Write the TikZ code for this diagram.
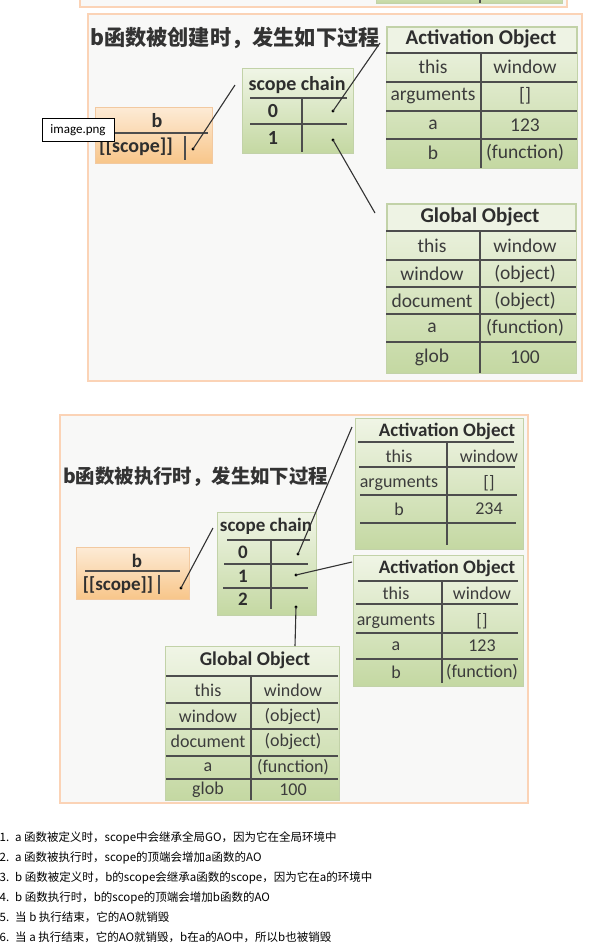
\documentclass[tikz,border=0pt]{standalone}
\usepackage{fontspec}
\setmainfont{Carlito}
\newfontfamily\cjk{Noto Sans CJK SC}
\definecolor{framec}{HTML}{FBD3B6}
\definecolor{bgc}{HTML}{F8F8F7}
\definecolor{gtop}{HTML}{F0F5E6}
\definecolor{gbot}{HTML}{C4D8A2}
\definecolor{gborder}{HTML}{C2D2A8}
\definecolor{hdfill}{HTML}{EEF3E4}
\definecolor{otop}{HTML}{FDEBD6}
\definecolor{obot}{HTML}{F8C68A}
\definecolor{oborder}{HTML}{F2C9A0}
\definecolor{sepc}{HTML}{4D4D4D}
\definecolor{connc}{HTML}{333333}
\definecolor{hdc}{HTML}{2E2E2E}
\definecolor{cellc}{HTML}{3C3C3C}
\definecolor{titlec}{HTML}{333333}
\tikzset{
 frame/.style={draw=framec, line width=1.3pt, fill=bgc},
 gbox/.style={draw=gborder, line width=0.9pt, top color=gtop, bottom color=gbot},
 obox/.style={draw=oborder, line width=0.9pt, top color=otop, bottom color=obot},
 sepline/.style={draw=sepc, line width=1.4pt},
 conn/.style={draw=connc, line width=1.1pt},
 dotn/.style={circle, fill=black, inner sep=0pt, minimum size=3.2pt},
 hdA/.style={font=\bfseries\fontsize{21}{24}\selectfont, text=hdc, inner sep=0pt},
 cellA/.style={font=\fontsize{19.5}{22}\selectfont, text=cellc, inner sep=0pt},
 hdB/.style={font=\bfseries\fontsize{19}{22}\selectfont, text=hdc, inner sep=0pt},
 cellB/.style={font=\fontsize{18}{21}\selectfont, text=cellc, inner sep=0pt},
 ttl/.style={font=\cjk\bfseries\fontsize{21.2}{25}\selectfont, text=titlec, inner sep=0pt, anchor=west},
 note/.style={font=\cjk\fontsize{11.5}{14}\selectfont, text=black, inner sep=0pt, anchor=base west},
}
\begin{document}
\begin{tikzpicture}[x=1pt,y=-1pt]
\useasboundingbox (0,0) rectangle (592,951);
\fill[white] (0,0) rectangle (592,951);
% tail of previous frame
\draw[frame] (80,-20) rectangle (567,7);
\draw[gbox] (376,-20) rectangle (562,3);
\draw[sepline] (480,-5) -- (480,3);

% ===== frame 1 =====
\draw[frame] (88,14) rectangle (582,381);
\node[ttl] (t1) at (90,38) {b函数被创建时，发生如下过程};

% AO1
\draw[gbox] (386,26) rectangle (577,168);
\draw[draw=gborder, fill=hdfill] (387,27) rectangle (576,53);
\foreach \y in {53,82,111,139} \draw[sepline] (386,\y) -- (577,\y);
\draw[sepline] (481,53) -- (481,168);
\node[hdA] (ao1h) at (481,39) {Activation Object};
\foreach \n/\l/\r/\y in {1/this/window/67, 2/arguments/{[]}/96, 3/a/123/125, 4/b/(function)/153}{
  \node[cellA] (ao1l\n) at (433,\y) {\l};
  \node[cellA] (ao1r\n) at (525,\y) {\r};
}

% Global1
\draw[gbox] (386,203) rectangle (576,373);
\draw[draw=gborder, fill=hdfill] (387,204) rectangle (575,231);
\foreach \y in {231,260,287,314,342} \draw[sepline] (386,\y) -- (576,\y);
\draw[sepline] (480,231) -- (480,373);
\node[hdA] (g1h) at (480,217) {Global Object};
\foreach \n/\l/\r/\y in {1/this/window/246, 2/window/(object)/274, 3/document/(object)/301, 4/a/(function)/328, 5/glob/100/357}{
  \node[cellA] (g1l\n) at (432,\y) {\l};
  \node[cellA] (g1r\n) at (525,\y) {\r};
}

% scope chain 1
\draw[gbox] (242,68) rectangle (353,153);
\node[hdA, font=\bfseries\fontsize{20}{23}\selectfont] (sc1h) at (297,85) {scope chain};
\draw[sepline] (250,98) -- (347,98);
\draw[sepline] (250,124) -- (347,124);
\draw[sepline] (302,98) -- (302,152);
\node[hdA, font=\bfseries\fontsize{20}{23}\selectfont] (sc1n0) at (273,111) {0};
\node[hdA, font=\bfseries\fontsize{20}{23}\selectfont] (sc1n1) at (273,138) {1};
\node[dotn] (d10) at (333,111) {};
\node[dotn] (d11) at (333,140) {};

% b box 1
\draw[obox] (95,107) rectangle (212,163);
\node[hdA, font=\bfseries\fontsize{20}{23}\selectfont] (b1h) at (157,121) {b};
\draw[sepline] (99,133) -- (208,133);
\node[hdA, font=\bfseries\fontsize{20}{23}\selectfont] (b1s) at (136,147) {[[scope]]};
\draw[sepline] (185,136) -- (185,160);
\node[dotn] (db1) at (193,149) {};

% tooltip
\node[draw=black, fill=white, line width=0.8pt, minimum width=72pt, minimum height=23pt, inner sep=0pt, font=\fontsize{13}{15}\selectfont] (tip) at (78,130) {image.png};

% connectors 1
\coordinate (c1) at (235,85);
\coordinate (c2) at (380,43);
\coordinate (c3) at (375,213);
\draw[conn] (db1.center) -- (c1);
\draw[conn] (d10.center) -- (c2);
\draw[conn] (d11.center) -- (c3);

% ===== frame 2 =====
\draw[frame] (60,415) rectangle (528,803);
\node[ttl, font=\cjk\bfseries\fontsize{19.4}{23}\selectfont] (t2) at (63,477) {b函数被执行时，发生如下过程};

% AO2a
\draw[gbox] (355,418) rectangle (523,549);
\node[hdB] (ao2h) at (447,431) {Activation Object};
\draw[sepline] (358,442) -- (514,442);
\draw[sepline] (359,467) -- (515,467);
\draw[sepline] (360,495) -- (517,495);
\draw[sepline] (360,523) -- (516,523);
\draw[sepline] (447,442) -- (447,545);
\foreach \n/\l/\r/\y in {1/this/window/456, 2/arguments/{[]}/483, 3/b/234/509}{
  \node[cellB] (ao2l\n) at (399,\y) {\l};
  \node[cellB] (ao2r\n) at (489,\y) {\r};
}

% AO2b
\draw[gbox] (353,555) rectangle (523,686);
\node[hdB] (ao3h) at (447,568) {Activation Object};
\draw[sepline] (358,581) -- (518,581);
\draw[sepline] (356,604) -- (518,604);
\draw[sepline] (356,633) -- (518,633);
\draw[sepline] (356,659) -- (518,659);
\draw[sepline] (442,581) -- (442,683);
\foreach \n/\l/\r/\y in {1/this/window/593, 2/arguments/{[]}/621, 3/a/123/646, 4/b/(function)/672}{
  \node[cellB] (ao3l\n) at (396,\y) {\l};
  \node[cellB] (ao3r\n) at (482,\y) {\r};
}

% scope chain 2
\draw[gbox] (217,512) rectangle (316,615);
\node[hdB] (sc2h) at (266,526) {scope chain};
\draw[sepline] (227,540) -- (310,540);
\draw[sepline] (224,564) -- (308,564);
\draw[sepline] (223,588) -- (308,588);
\draw[sepline] (271,540) -- (271,609);
\node[hdB] (sc2n0) at (243,552) {0};
\node[hdB] (sc2n1) at (243,576) {1};
\node[hdB] (sc2n2) at (243,599) {2};
\node[dotn] (e0) at (298,554) {};
\node[dotn] (e1) at (296,575) {};
\node[dotn] (e2) at (296,607) {};

% b box 2
\draw[obox] (76,547) rectangle (189,599);
\node[hdB] (b2h) at (137,561) {b};
\draw[sepline] (85,571) -- (180,571);
\node[hdB] (b2s) at (118,585) {[[scope]]};
\draw[sepline] (159,575) -- (159,594);
\node[dotn] (eb) at (181,588) {};

% Global2
\draw[gbox] (165,646) rectangle (339,800);
\node[hdB, font=\bfseries\fontsize{19.5}{22}\selectfont] (g2h) at (255,660) {Global Object};
\foreach \y in {676,703,729,756,779} \draw[sepline] (166,\y) -- (338,\y);
\draw[sepline] (251,676) -- (251,800);
\foreach \n/\l/\r/\y in {1/this/window/690, 2/window/(object)/716, 3/document/(object)/741, 4/a/(function)/767, 5/glob/100/790}{
  \node[cellB] (g2l\n) at (208,\y) {\l};
  \node[cellB] (g2r\n) at (293,\y) {\r};
}

% connectors 2
\coordinate (f1) at (213,528);
\coordinate (f2) at (352,427);
\coordinate (f3) at (352,562);
\coordinate (f4) at (295,646);
\draw[conn] (eb.center) -- (f1);
\draw[conn] (e0.center) -- (f2);
\draw[conn] (e1.center) -- (f3);
\draw[conn] (e2.center) -- (f4);

% ===== notes =====
\node[note] (n1) at (9,841) {\makebox[0pt][r]{1.}\hspace{6pt}a 函数被定义时，scope中会继承全局GO，因为它在全局环境中};
\node[note] (n2) at (9,861) {\makebox[0pt][r]{2.}\hspace{6pt}a 函数被执行时，scope的顶端会增加a函数的AO};
\node[note] (n3) at (9,881) {\makebox[0pt][r]{3.}\hspace{6pt}b 函数被定义时，b的scope会继承a函数的scope，因为它在a的环境中};
\node[note] (n4) at (9,901) {\makebox[0pt][r]{4.}\hspace{6pt}b 函数执行时，b的scope的顶端会增加b函数的AO};
\node[note] (n5) at (9,921) {\makebox[0pt][r]{5.}\hspace{6pt}当 b 执行结束，它的AO就销毁};
\node[note] (n6) at (9,941) {\makebox[0pt][r]{6.}\hspace{6pt}当 a 执行结束，它的AO就销毁，b在a的AO中，所以b也被销毁};
\end{tikzpicture}
\end{document}
